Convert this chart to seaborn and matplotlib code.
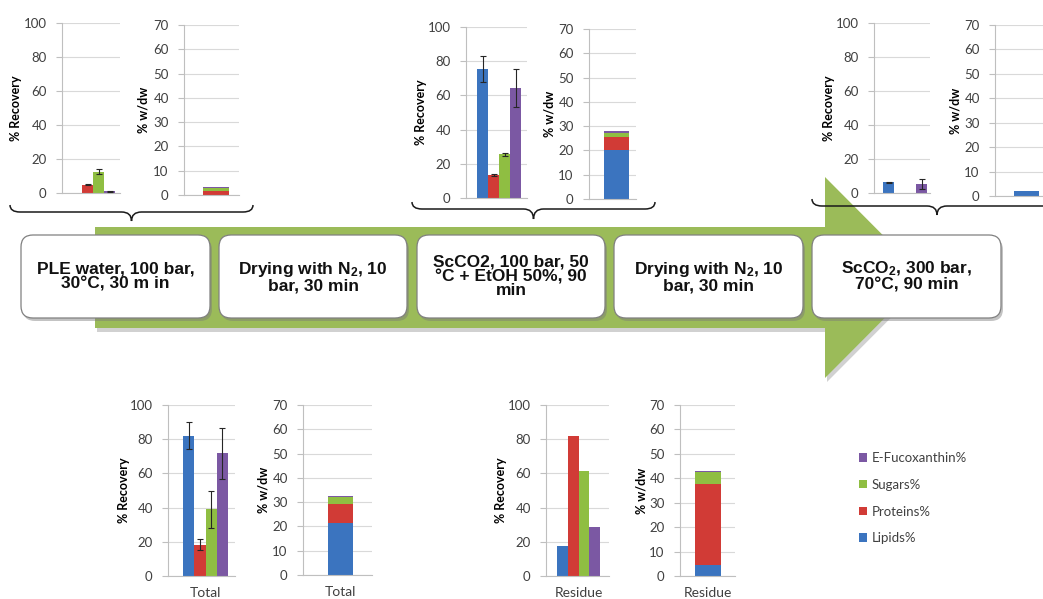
import numpy as np
import pandas as pd
import matplotlib
matplotlib.use("Agg")
import matplotlib.pyplot as plt
import seaborn as sns
from matplotlib.patches import Polygon, FancyBboxPatch, PathPatch, Patch
from matplotlib.path import Path

# ---------------- data ----------------
components = ["Lipids%", "Proteins%", "Sugars%", "E-Fucoxanthin%"]
colors = ["#3B74BF", "#D13B36", "#8FBE42", "#7B58A3"]

step_labels = [
    "PLE water, 100 bar,\n30°C, 30 m in",
    "Drying with N$_2$, 10\nbar, 30 min",
    "ScCO2, 100 bar, 50\n°C + EtOH 50%, 90\nmin",
    "Drying with N$_2$, 10\nbar, 30 min",
    "ScCO$_2$, 300 bar,\n70°C, 90 min",
]

ple_recovery = [0.0, 4.9, 12.4, 1.0]
ple_recovery_err = [0.0, 0.4, 1.5, 0.3]
ple_wdw = [0.0, 1.8, 1.2, 0.1]

scco2_etoh_recovery = [75.5, 13.6, 25.5, 64.5]
scco2_etoh_recovery_err = [7.5, 0.5, 1.0, 11.0]
scco2_etoh_wdw = [20.0, 5.6, 1.6, 0.8]

scco2_recovery = [6.2, 0.0, 0.0, 5.3]
scco2_recovery_err = [0.3, 0.0, 0.0, 3.0]
scco2_wdw = [2.0, 0.0, 0.0, 0.0]

total_recovery = [82.0, 18.4, 38.9, 71.7]
total_recovery_err = [7.8, 3.2, 10.7, 15.0]
total_wdw = [21.5, 7.6, 2.9, 0.6]

residue_recovery = [17.6, 81.8, 61.5, 28.7]
residue_recovery_err = [0.0, 0.0, 0.0, 0.0]
residue_wdw = [4.5, 33.2, 4.8, 0.4]

recovery_ticks = [0, 20, 40, 60, 80, 100]
wdw_ticks = [0, 10, 20, 30, 40, 50, 60, 70]
recovery_label = "% Recovery"
wdw_label = "% w/dw"

# ---------------- style ----------------
sns.set_style("white")
plt.rcParams["font.family"] = ["Lato", "DejaVu Sans"]
plt.rcParams["mathtext.default"] = "regular"

W, H = 1043, 599
fig = plt.figure(figsize=(W / 100, H / 100), dpi=100)
bg = fig.add_axes([0, 0, 1, 1])
bg.set_xlim(0, W)
bg.set_ylim(H, 0)
bg.axis("off")


def px_axes(L, T, R, B):
    return fig.add_axes([L / W, 1 - B / H, (R - L) / W, (B - T) / H])


# ---------------- arrow ----------------
arrow_pts = [(95, 227), (825, 227), (825, 177), (925, 277.5),
             (825, 378), (825, 328), (95, 328)]
shadow_pts = [(x + 2, y + 4) for x, y in arrow_pts]
bg.add_patch(Polygon(shadow_pts, closed=True, facecolor="#9a9a9a",
                     edgecolor="none", alpha=0.45, zorder=1))
bg.add_patch(Polygon(arrow_pts, closed=True, facecolor="#9BBB59",
                     edgecolor="none", zorder=2))

# ---------------- boxes ----------------
box_x = [(21, 210), (219, 407), (417, 605), (614, 803), (812, 1001)]
box_top, box_bot = 235, 318
for (x0, x1), lab in zip(box_x, step_labels):
    bg.add_patch(FancyBboxPatch((x0 + 2, box_top + 3), x1 - x0, box_bot - box_top,
                                boxstyle="round,pad=0,rounding_size=12",
                                facecolor="#7a7a7a", edgecolor="none",
                                alpha=0.45, zorder=3))
    bg.add_patch(FancyBboxPatch((x0, box_top), x1 - x0, box_bot - box_top,
                                boxstyle="round,pad=0,rounding_size=12",
                                facecolor="white", edgecolor="#808080",
                                linewidth=0.9, zorder=4))
    bg.text((x0 + x1) / 2, (box_top + box_bot) / 2, lab, ha="center",
            va="center", fontsize=12.5, fontweight="bold",
            family=["Liberation Sans", "DejaVu Sans"], linespacing=0.95,
            color="#111111", zorder=5)


# ---------------- braces ----------------
def brace(x0, x1, ye, yb, yt, r=10):
    xm = (x0 + x1) / 2
    verts = [(x0, ye), (x0, yb), (x0 + r, yb), (xm - r, yb), (xm, yb), (xm, yt),
             (xm, yb), (xm + r, yb), (x1 - r, yb), (x1, yb), (x1, ye)]
    codes = [Path.MOVETO, Path.CURVE3, Path.CURVE3, Path.LINETO, Path.CURVE3,
             Path.CURVE3, Path.CURVE3, Path.CURVE3, Path.LINETO, Path.CURVE3,
             Path.CURVE3]
    bg.add_patch(PathPatch(Path(verts, codes), fill=False, lw=1.1,
                           edgecolor="#1a1a1a", zorder=6))


brace(10, 253, 205, 212, 221)
brace(412, 655, 202, 209, 219)
brace(812, 1062, 199, 206, 215)


# ---------------- charts ----------------
def style_axes(ax, rect, C, Wg, w, ymax, ticks, ylabel, label_center, show_cat):
    L, T, R, B = rect
    ax.set_ylim(0, ymax)
    ax.set_yticks(ticks)
    scale = Wg / w
    ax.set_xlim((L - C) / scale, (R - C) / scale)
    ax.set_facecolor("none")
    for s in ["top", "right"]:
        ax.spines[s].set_visible(False)
    for s in ["left", "bottom"]:
        ax.spines[s].set_color("#BFBFBF")
        ax.spines[s].set_linewidth(0.8)
    ax.yaxis.grid(True, color="#D9D9D9", lw=0.8)
    ax.xaxis.grid(False)
    ax.set_axisbelow(True)
    ax.tick_params(axis="y", length=4, width=0.8, color="#BFBFBF", pad=7,
                   labelsize=9.5, labelcolor="#404040", left=True)
    ax.tick_params(axis="x", length=0, pad=8, labelsize=10,
                   labelcolor="#404040", labelbottom=show_cat)
    ax.set_xlabel("")
    ax.set_ylabel(ylabel, fontsize=9, fontweight="bold", color="black")
    ax.yaxis.set_label_coords((label_center + 7 - L) / (R - L), 0.5)


def recovery_chart(rect, cat, vals, errs, C, Wg, label_center, show_cat):
    ax = px_axes(*rect)
    w = 0.8
    df = pd.DataFrame({"stage": [cat] * len(components),
                       "component": components, "value": vals})
    sns.barplot(data=df, x="stage", y="value", hue="component",
                hue_order=components, palette=colors, width=w, saturation=1,
                errorbar=None, legend=False, ax=ax, linewidth=0)
    bars = sorted(ax.patches, key=lambda p: p.get_x())
    xs = [p.get_x() + p.get_width() / 2 for p in bars]
    ex = [x for x, e in zip(xs, errs) if e > 0]
    ey = [v for v, e in zip(vals, errs) if e > 0]
    ee = [e for e in errs if e > 0]
    if ee:
        ax.errorbar(ex, ey, yerr=ee, fmt="none", ecolor="#262626",
                    elinewidth=0.8, capsize=2.5, capthick=0.8, zorder=5)
    style_axes(ax, rect, C, Wg, w, 100, recovery_ticks, recovery_label,
               label_center, show_cat)
    return ax


def wdw_chart(rect, cat, vals, C, Wg, label_center, show_cat):
    ax = px_axes(*rect)
    w = 0.8
    cum = np.cumsum(vals)
    for i in range(len(components) - 1, -1, -1):
        sns.barplot(x=[cat], y=[cum[i]], color=colors[i], width=w,
                    saturation=1, errorbar=None, ax=ax, linewidth=0)
    style_axes(ax, rect, C, Wg, w, 70, wdw_ticks, wdw_label,
               label_center, show_cat)
    return ax


recovery_chart((62, 23, 120, 193), "", ple_recovery, ple_recovery_err, 93, 44, 15, False)
wdw_chart((184, 25, 239, 195), "", ple_wdw, 216, 26, 143, False)

recovery_chart((466, 27, 527, 198), "", scco2_etoh_recovery, scco2_etoh_recovery_err, 499, 44, 420, False)
wdw_chart((589, 29, 636, 199), "", scco2_etoh_wdw, 616.5, 25, 548, False)

recovery_chart((874, 23, 930, 193), "", scco2_recovery, scco2_recovery_err, 905, 44, 828, False)
wdw_chart((995, 25, 1050, 196), "", scco2_wdw, 1026.5, 25, 954, False)

recovery_chart((168, 405, 235, 576), "Total", total_recovery, total_recovery_err, 205.5, 45, 123, True)
wdw_chart((303, 405, 372, 575), "Total", total_wdw, 340.5, 25, 263, True)

recovery_chart((546, 405, 609, 576), "Residue", residue_recovery, residue_recovery_err, 578.5, 43, 500, True)
wdw_chart((680, 405, 735, 576), "Residue", residue_wdw, 708, 26, 640, True)

# ---------------- legend ----------------
order = [3, 2, 1, 0]
handles = [Patch(facecolor=colors[i], edgecolor="none") for i in order]
labels = [components[i] for i in order]
bg.legend(handles, labels, loc="upper left", bbox_to_anchor=(859, 452),
          bbox_transform=bg.transData, frameon=False, handlelength=0.6,
          handleheight=0.6, handletextpad=0.35, labelspacing=1.12,
          borderaxespad=0, borderpad=0,
          prop={"family": ["Lato", "DejaVu Sans"], "size": 9.5},
          labelcolor="#404040")

fig.savefig("out.png", dpi=100)
